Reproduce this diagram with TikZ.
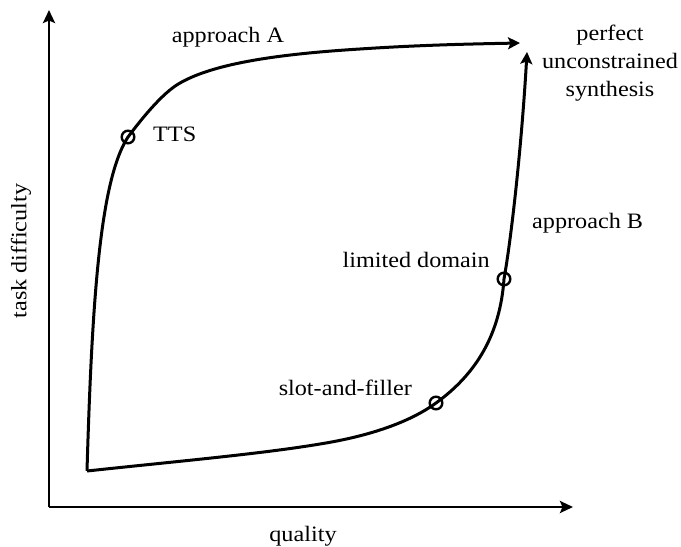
\documentclass[tikz,border=0pt]{standalone}
\usepackage{fontspec}
\setmainfont[FakeStretch=1.1]{Liberation Serif}
\usetikzlibrary{arrows.meta}

\tikzset{
  axis/.style={line width=2.6bp, -{Stealth[length=13bp,width=12bp,inset=2.5bp]}},
  trend/.style={line width=3bp, -{Stealth[length=12bp,width=12bp,inset=2.5bp]}},
  milestone/.style={circle, draw, line width=2.4bp, minimum size=12.6bp, inner sep=0pt},
  lbl/.style={font=\fontsize{22bp}{28.4bp}\selectfont, inner sep=0pt},
}

\begin{document}
\begin{tikzpicture}[x=1bp, y=-1bp]
\useasboundingbox (0,0) rectangle (681,547);

% axes
\coordinate (axo) at (49,507);
\coordinate (ytip) at (49,10);
\coordinate (xtip) at (573,507);
\draw[axis] (axo) -- (ytip);
\draw[axis] (axo) -- (xtip);

% common starting point of both approaches
\coordinate (start) at (87,471);

% milestones
\node[milestone] (tts) at (128,137) {};
\node[milestone] (slot) at (436,403) {};
\node[milestone] (lim) at (504,279) {};

% goal points
\coordinate (goalA) at (520,43);
\coordinate (goalB) at (527,52);
\coordinate (bendA) at (180,83);
\coordinate (midA) at (360,49);
\coordinate (midB) at (320,444);

% approach A
\draw[trend] (start) .. controls (92,300) and (100,180) .. (tts.center)
  .. controls (140,121) and (162,93) .. (bendA)
  .. controls (215,63) and (280,54) .. (midA)
  .. controls (420,45) and (470,44) .. (goalA);

% approach B
\draw[trend] (start) .. controls (180,461) and (260,454) .. (midB)
  .. controls (370,436) and (410,422) .. (slot.center)
  .. controls (476,374) and (500,335) .. (lim.center)
  .. controls (512,234) and (522,140) .. (goalB);

% labels
\node[lbl, anchor=base] (lA) at (228,43) {approach A};
\node[lbl, anchor=base west] (lT) at (153,142) {TTS};
\node[lbl, anchor=base, align=center] (lP) at (610,97) {perfect\\unconstrained\\synthesis};
\node[lbl, anchor=base west] (lB) at (532,229) {approach B};
\node[lbl, anchor=base east] (lL) at (490,268) {limited domain};
\node[lbl, anchor=base east] (lS) at (412,395) {slot-and-filler};
\node[lbl, anchor=base] (lQ) at (303,541) {quality};
\node[lbl, rotate=90] (lD) at (21,251) {task difficulty};
\end{tikzpicture}
\end{document}
